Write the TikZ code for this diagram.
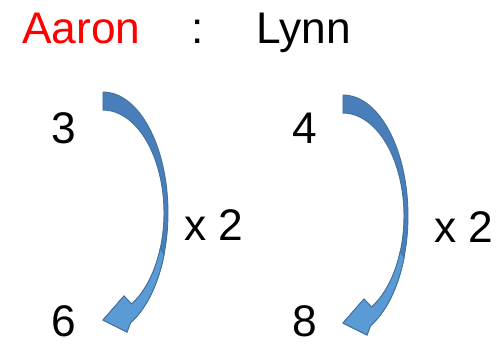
\documentclass[tikz,border=0pt]{standalone}
\usepackage{fontspec}
\setmainfont{Liberation Sans}
\definecolor{arrowdark}{HTML}{4A7EBB}
\definecolor{arrowlight}{HTML}{5B9BD5}
\definecolor{arrowline}{HTML}{41719C}
\usetikzlibrary{positioning}

\begin{document}
\begin{tikzpicture}[x=0.02cm, y=-0.02cm,
  every node/.style={inner sep=0pt, anchor=base west, font=\fontsize{25.2}{28}\selectfont}]
  \useasboundingbox (0,0) rectangle (500,343);
  % names
  \node[text=red] (aaron) at (22,43) {Aaron};
  \node (colon) at (191,43) {:};
  \node (lynn) at (256,43) {Lynn};
  % numbers
  \node (three) at (51,143) {3};
  \node (six) at (51,336) {6};
  \node (four) at (292,143) {4};
  \node (eight) at (292,336) {8};
  \node (timesa) at (184,240) {x 2};
  \node (timesb) at (434,242) {x 2};
  % curved arrows
  \foreach \dx/\dy in {0/0, 240/3} {
    \begin{scope}[shift={(\dx,\dy)}]
      \filldraw[fill=arrowdark, draw=arrowline, line width=0.5pt]
        (103,92) arc[start angle=-90, end angle=65, x radius=65, y radius=121]
        -- (127,332) -- (103,320) -- (124,296) -- (131.6,304)
        arc[start angle=62, end angle=-90, x radius=61, y radius=103] -- cycle;
      \filldraw[fill=arrowlight, draw=arrowline, line width=0.5pt]
        (164.1,254.4) arc[start angle=20, end angle=65, x radius=65, y radius=121]
        -- (127,332) -- (103,320) -- (124,296) -- (131.6,304)
        arc[start angle=62, end angle=20, x radius=61, y radius=103] -- cycle;
    \end{scope}
  }
\end{tikzpicture}
\end{document}
